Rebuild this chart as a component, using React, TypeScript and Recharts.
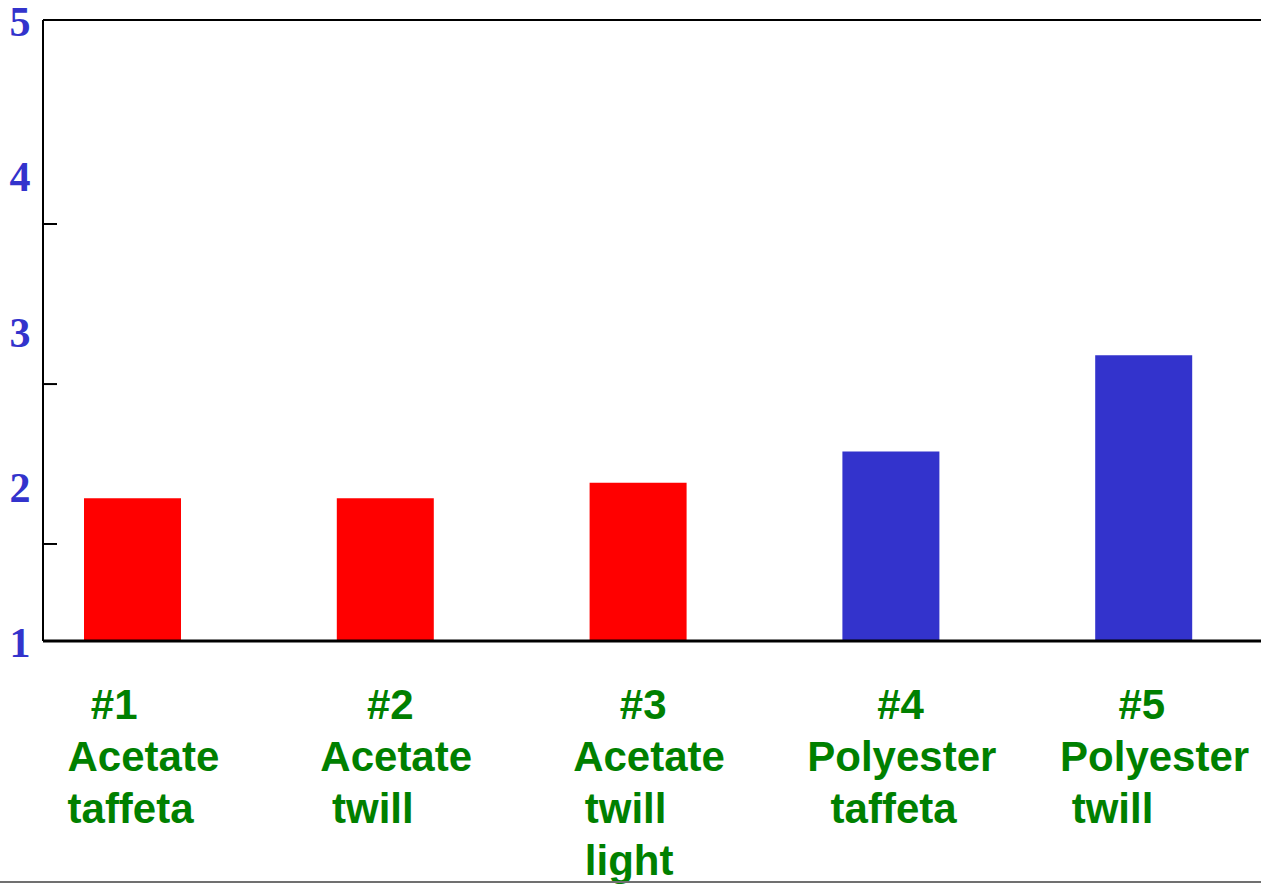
import React from 'react'
import { BarChart, Bar, XAxis, YAxis, Cell, ReferenceLine } from 'recharts'

// fabric samples, bar heights
const categories = ['#1', '#2', '#3', '#4', '#5']
const fiberType = ['Acetate', 'Acetate', 'Acetate', 'Polyester', 'Polyester']
const values = [1.92, 1.92, 2.02, 2.22, 2.84]

// x labels as typed on the slide (leading spaces kept)
const labelLines = [
  ['  #1', 'Acetate', 'taffeta'],
  ['    #2', 'Acetate', ' twill'],
  ['    #3', 'Acetate', ' twill', ' light'],
  ['      #4', 'Polyester', '  taffeta'],
  ['     #5', 'Polyester', ' twill'],
]

const yLabels = [1, 2, 3, 4, 5]
const minorTicks = [1.625, 2.655, 3.686]

const fiberColor: Record<string, string> = { Acetate: '#FF0000', Polyester: '#3333CC' }

const data = categories.map((name, i) => ({ name, value: values[i], fiber: fiberType[i] }))

const LABEL_FONT = 'bold 42px "Liberation Sans", Arial, sans-serif'

let ctx: CanvasRenderingContext2D | null = null
function textWidth(s: string) {
  if (!ctx) ctx = document.createElement('canvas').getContext('2d')
  if (!ctx) return s.length * 20
  ctx.font = LABEL_FONT
  return ctx.measureText(s).width
}

function XTick(props: any) {
  const { x, y, payload } = props
  const idx = categories.indexOf(payload.value)
  const lines = labelLines[idx] || [payload.value]
  const maxW = Math.max(...lines.map((l) => textWidth(l.trim())))
  const left = x - maxW / 2 + 11
  return (
    <g>
      {lines.map((l, i) => (
        <text
          key={i}
          x={left}
          y={y + 78 + i * 52}
          textAnchor="start"
          fill="#008000"
          style={{ font: LABEL_FONT, whiteSpace: 'pre' }}
        >
          {l}
        </text>
      ))}
    </g>
  )
}

function YTick(props: any) {
  const { x, y, payload } = props
  if (yLabels.includes(payload.value)) {
    return (
      <text
        x={x - 23}
        y={y + 16}
        textAnchor="middle"
        fill="#3333CC"
        style={{ font: 'bold 42px "Liberation Serif", "Times New Roman", serif' }}
      >
        {payload.value}
      </text>
    )
  }
  return <line x1={x} x2={x + 14} y1={y} y2={y} stroke="#000" strokeWidth={2} />
}

export default function App() {
  const ticks = [...yLabels, ...minorTicks].sort((a, b) => a - b)
  return (
    <div style={{ position: 'fixed', left: 0, top: 0, width: 1261, height: 884, overflow: 'hidden', background: '#fff' }}>
      <BarChart width={1300} height={884} data={data} margin={{ top: 20, right: 0, bottom: 0, left: 0 }}>
        <XAxis
          dataKey="name"
          height={243}
          padding={{ left: -37, right: 30 }}
          axisLine={{ stroke: '#000', strokeWidth: 3 }}
          tickLine={false}
          tickSize={0}
          tickMargin={0}
          interval={0}
          tick={(p: any) => <XTick {...p} />}
        />
        <YAxis
          type="number"
          domain={[1, 5]}
          ticks={ticks}
          interval={0}
          width={43}
          axisLine={{ stroke: '#000', strokeWidth: 2 }}
          tickLine={false}
          tickSize={0}
          tickMargin={0}
          tick={(p: any) => <YTick {...p} />}
        />
        <ReferenceLine y={5} stroke="#000" strokeWidth={2} />
        <Bar dataKey="value" barSize={97} isAnimationActive={false}>
          {data.map((d, i) => (
            <Cell key={i} fill={fiberColor[d.fiber]} />
          ))}
        </Bar>
      </BarChart>
      <div style={{ position: 'absolute', left: 0, top: 881, width: '100%', height: 2, background: '#707070' }} />
    </div>
  )
}
